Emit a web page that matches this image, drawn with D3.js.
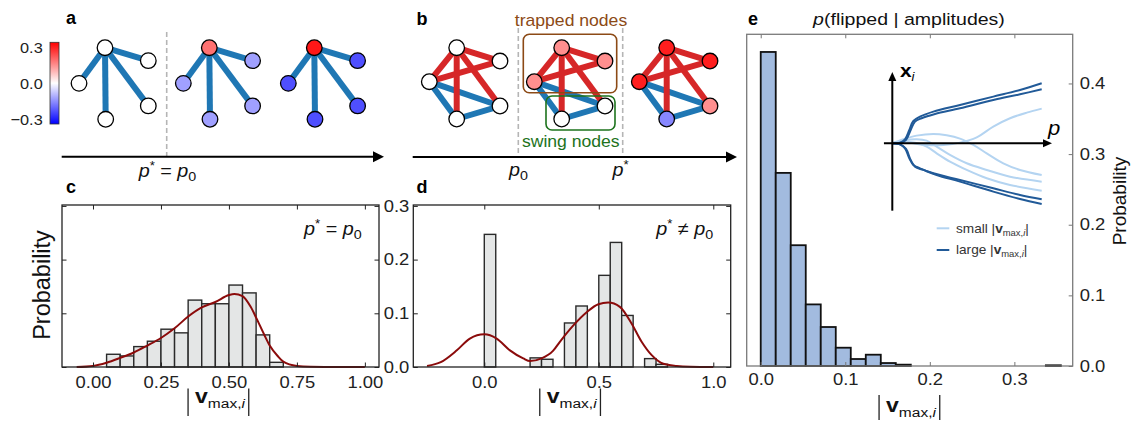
<!DOCTYPE html>
<html><head><meta charset="utf-8">
<script src="https://cdn.jsdelivr.net/npm/d3@7"></script>
<style>
html,body{margin:0;padding:0;background:#fff;}
svg{display:block;}
</style></head><body>
<svg id="fig" width="1132" height="423"></svg>
<script>
// ================= DATA =================
// panel a : amplitudes of hub / leaves in the three stages
const aHubValues  = [0.00, 0.19, 0.31];
const aLeafValues = [0.00, -0.127, -0.235];
const colorbarTicks = [0.3, 0.0, -0.3];
const colorbarLabels = ["0.3", "0.0", "\u22120.3"];
// panel b : node amplitudes per stage (order: top, rightTop, left, rightBottom, bottom)
const bStageValues = [
  [0, 0, 0, 0, 0],
  [0.15, 0.15, 0.15, 0, 0],
  [0.30, 0.30, 0.30, 0.15, -0.16]
];
const bRedEdges  = [[0,2],[0,4],[0,1],[0,3],[2,1]];
const bBlueEdges = [[2,4],[2,3],[4,3]];
// panel c : histogram + kde, p* = p0
const cBinStarts = [0.05,0.10,0.15,0.20,0.25,0.30,0.35,0.40,0.45,0.50,0.55,0.60,0.65];
const cHeights   = [0.0237,0.0206,0.038,0.048,0.0704,0.0636,0.1246,0.1178,0.1178,0.1526,0.138,0.0598,0.0087];
const cKdeX = [-0.06,0.0,0.05,0.10,0.15,0.20,0.25,0.30,0.35,0.40,0.45,0.50,0.52,0.55,0.58,0.60,0.63,0.65,0.68,0.70,0.75,0.80,0.90,1.00];
const cKdeY = [0.0,0.002,0.008,0.017,0.027,0.040,0.054,0.072,0.094,0.111,0.121,0.134,0.136,0.132,0.112,0.092,0.060,0.040,0.020,0.010,0.002,0.0005,0.0,0.0];
// panel d : histogram + kde, p* != p0
const dBinStarts = [0.00,0.20,0.25,0.35,0.40,0.50,0.55,0.60,0.70,0.75];
const dHeights   = [0.247,0.017,0.0144,0.082,0.1136,0.1707,0.232,0.096,0.0156,0.005];
const dKdeX = [-0.25,-0.19,-0.12,-0.063,0.0,0.054,0.112,0.17,0.20,0.25,0.30,0.33,0.39,0.447,0.498,0.541,0.592,0.643,0.687,0.731,0.782,0.84,0.90,1.0];
const dKdeY = [0.002,0.009,0.031,0.053,0.061,0.053,0.031,0.016,0.011,0.016,0.030,0.047,0.078,0.102,0.117,0.120,0.112,0.081,0.047,0.022,0.006,0.002,0.0005,0.0];
// panel e : histogram of |v_max,i| for flipped nodes
const eBinWidth = 0.01775;
const eHeights = [0.4446,0.2734,0.171,0.0872,0.0552,0.0259,0.0099,0.016,0.0042,0.0019,0,0,0,0,0,0,0,0,0,0.001];
const cTicks = [0, 0.25, 0.5, 0.75, 1.0];
const dTicks = [0, 0.5, 1.0];
const cdYTicks = [0, 0.1, 0.2, 0.3];
const eXTicks = [0, 0.1, 0.2, 0.3];
const eYTicks = [0, 0.1, 0.2, 0.3, 0.4];
// inset : bifurcation sketch (p, x_i)
const insetLargeP = [
  [0,0.051,0.085,0.114,0.141,0.185,0.275,0.453,0.676,0.855,1.0],
  [0,0.056,0.092,0.123,0.152,0.196,0.286,0.453,0.676,0.855,1.0],
  [0,0.051,0.085,0.114,0.141,0.185,0.275,0.453,0.676,0.855,1.0],
  [0,0.056,0.092,0.123,0.152,0.208,0.297,0.453,0.676,0.855,1.0]
];
const insetLargeX = [
  [0,0.011,0.067,0.222,0.372,0.444,0.528,0.639,0.778,0.889,1.0],
  [0,0.006,0.056,0.222,0.361,0.417,0.489,0.583,0.722,0.817,0.9],
  [0,-0.017,-0.083,-0.25,-0.361,-0.417,-0.5,-0.611,-0.75,-0.861,-0.933],
  [0,-0.022,-0.094,-0.278,-0.389,-0.444,-0.528,-0.639,-0.806,-0.928,-1.011]
];
const insetSmallP = [
  [0,0.074,0.141,0.23,0.342,0.453,0.565,0.676,0.788,0.9,1.0],
  [0,0.074,0.163,0.275,0.364,0.453,0.542,0.632,0.743,0.855,1.0],
  [0,0.074,0.163,0.23,0.297,0.386,0.498,0.632,0.788,1.0],
  [0,0.074,0.152,0.23,0.297,0.386,0.498,0.632,0.788,1.0]
];
const insetSmallX = [
  [0,0.028,0.0,-0.028,-0.028,0.011,0.1,0.278,0.417,0.511,0.578],
  [0,0.067,0.128,0.156,0.133,0.078,-0.028,-0.167,-0.333,-0.444,-0.528],
  [0,0.044,0.067,0.044,-0.056,-0.194,-0.333,-0.444,-0.556,-0.639],
  [0,0.022,0.011,-0.056,-0.167,-0.306,-0.444,-0.583,-0.694,-0.789]
];

// ================= STYLE / HELPERS =================
const FONT = '"Liberation Sans", Arial, Helvetica, sans-serif';
const SX = 1.15;
const svg = d3.select("#fig").style("font-family", FONT);
function stretch(sel, s){
  sel.each(function(){
    const t = d3.select(this);
    const x = +(t.attr("x") || 0);
    t.attr("transform", `translate(${x*(1-s)},0) scale(${s},1)`);
  });
}
function mtext(parent, x, y, parts, o = {}){
  const t = parent.append("text").attr("x", x).attr("y", y)
    .attr("text-anchor", o.anchor || "start").style("font-family", FONT)
    .attr("font-size", o.size || 16).attr("fill", o.fill || "#111");
  if (o.weight) t.attr("font-weight", o.weight);
  parts.forEach(p => {
    const ts = t.append("tspan").text(p.t);
    if (p.i) ts.attr("font-style", "italic");
    if (p.b) ts.attr("font-weight", "bold");
    if (p.s) ts.attr("font-size", p.s);
    if (p.dy) ts.attr("dy", p.dy);
  });
  if (o.sx) stretch(t, o.sx);
  return t;
}
function vLabel(parent, cx, base, barTop, barBot, vSize, subSize, sx){
  const t = mtext(parent, cx, base, [{t:"v", b:1, s:vSize}, {t:"max,", s:subSize, dy:5}, {t:"i", i:1, s:subSize}], {anchor:"middle", sx});
  const bb = t.node().getBBox();
  const left = cx + (bb.x - cx) * sx, right = cx + (bb.x + bb.width - cx) * sx;
  [left - 7, right + 3].forEach(xx => parent.append("line")
    .attr("x1", xx).attr("x2", xx).attr("y1", barTop).attr("y2", barBot)
    .attr("stroke", "#222").attr("stroke-width", 1.3));
}
function styleAxis(g, color){
  g.select(".domain").remove();
  g.selectAll(".tick line").attr("stroke", color).attr("stroke-width", 1);
  g.selectAll(".tick text").attr("font-size", 16).attr("fill", "#222").style("font-family", FONT);
  stretch(g.selectAll(".tick text"), SX);
}
function arrow(parent, x1, y, x2){
  parent.append("line").attr("x1", x1).attr("x2", x2 - 8).attr("y1", y).attr("y2", y)
    .attr("stroke", "#000").attr("stroke-width", 2);
  parent.append("path").attr("d", `M${x2},${y} L${x2-11},${y-5.5} L${x2-11},${y+5.5} Z`).attr("fill", "#000");
}
const bwr = d3.scaleLinear().domain([-0.34, 0, 0.34]).range(["#0000ff", "#ffffff", "#ff0000"]);
const EDGE_BLUE = "#1f77b4", EDGE_RED = "#d62728";

// ================= PANEL A =================
const gA = svg.append("g");
mtext(gA, 66, 24, [{t:"a"}], {size:18, weight:"bold", fill:"#000"});
// colorbar
const cbY = d3.scaleLinear().domain([-0.34, 0.34]).range([124, 42.3]);
const defs = svg.append("defs");
const grad = defs.append("linearGradient").attr("id", "bwrgrad").attr("x1", 0).attr("x2", 0).attr("y1", 1).attr("y2", 0);
d3.range(0, 1.0001, 0.1).forEach(f => grad.append("stop").attr("offset", f).attr("stop-color", bwr(-0.34 + 0.68*f)));
gA.append("rect").attr("x", 50).attr("y", cbY(0.34)).attr("width", 9).attr("height", cbY(-0.34) - cbY(0.34))
  .attr("fill", "url(#bwrgrad)").attr("stroke", "#333").attr("stroke-width", 0.8);
colorbarTicks.forEach((v, i) => {
  mtext(gA, 42.7, cbY(v) + 5.6, [{t: colorbarLabels[i]}], {anchor:"end", size:15.5, fill:"#222", sx:1.05});
});
// layout of star graph (normalized)
const starLayout = [[0,0],[1,0.181],[-0.6,0.498],[1,0.813],[0.016,1]];
const starEdges = [[0,1],[0,2],[0,3],[0,4]];
const aHubX = [105, 209.3, 314.3];
aHubX.forEach((hx, s) => {
  const xs = d3.scaleLinear().domain([-1, 1]).range([hx - 43.3, hx + 43.3]);
  const ys = d3.scaleLinear().domain([0, 1]).range([47.7, 119.3]);
  const vals = [aHubValues[s], aLeafValues[s], aLeafValues[s], aLeafValues[s], aLeafValues[s]];
  gA.selectAll(null).data(starEdges).join("line")
    .attr("x1", d => xs(starLayout[d[0]][0])).attr("y1", d => ys(starLayout[d[0]][1]))
    .attr("x2", d => xs(starLayout[d[1]][0])).attr("y2", d => ys(starLayout[d[1]][1]))
    .attr("stroke", EDGE_BLUE).attr("stroke-width", 6);
  gA.selectAll(null).data(starLayout).join("circle")
    .attr("cx", d => xs(d[0])).attr("cy", d => ys(d[1])).attr("r", 7.8)
    .attr("fill", (d, i) => bwr(vals[i])).attr("stroke", "#000").attr("stroke-width", 1.3);
});
gA.append("line").attr("x1", 166.7).attr("x2", 166.7).attr("y1", 32).attr("y2", 157)
  .attr("stroke", "#b5b5b5").attr("stroke-width", 1.6).attr("stroke-dasharray", "5,3");
arrow(gA, 61.7, 156.7, 384);
mtext(gA, 167.5, 177, [{t:"p", i:1}, {t:"*", s:12, dy:-7}, {t:" = ", dy:7}, {t:"p", i:1}, {t:"0", s:13, dy:4}], {anchor:"middle", size:18, sx:1.1});

// ================= PANEL B =================
const gB = svg.append("g");
mtext(gB, 416.5, 25, [{t:"b"}], {size:18, weight:"bold", fill:"#000"});
const kLayout = [[0,0],[1,0.187],[-0.633,0.477],[1,0.818],[0,1]];
const bTopX = [456.7, 561.7, 666.7];
bTopX.forEach((hx, s) => {
  const xs = d3.scaleLinear().domain([-1, 1]).range([hx - 43.3, hx + 43.3]);
  const ys = d3.scaleLinear().domain([0, 1]).range([47.7, 119]);
  [[bBlueEdges, EDGE_BLUE], [bRedEdges, EDGE_RED]].forEach(([edges, col]) => {
    gB.selectAll(null).data(edges).join("line")
      .attr("x1", d => xs(kLayout[d[0]][0])).attr("y1", d => ys(kLayout[d[0]][1]))
      .attr("x2", d => xs(kLayout[d[1]][0])).attr("y2", d => ys(kLayout[d[1]][1]))
      .attr("stroke", col).attr("stroke-width", 6);
  });
  gB.selectAll(null).data(kLayout).join("circle")
    .attr("cx", d => xs(d[0])).attr("cy", d => ys(d[1])).attr("r", 7.8)
    .attr("fill", (d, i) => bwr(bStageValues[s][i])).attr("stroke", "#000").attr("stroke-width", 1.3);
});
[518.3, 622.7].forEach(xx => gB.append("line").attr("x1", xx).attr("x2", xx).attr("y1", 28).attr("y2", 157)
  .attr("stroke", "#b5b5b5").attr("stroke-width", 1.6).attr("stroke-dasharray", "5,3"));
const BROWN = "#8c4a16", GREEN = "#1d731d";
gB.append("rect").attr("x", 523.3).attr("y", 34.3).attr("width", 93.4).attr("height", 58.4).attr("rx", 6)
  .attr("fill", "none").attr("stroke", BROWN).attr("stroke-width", 1.6);
gB.append("rect").attr("x", 546).attr("y", 96).attr("width", 69).attr("height", 34).attr("rx", 6)
  .attr("fill", "none").attr("stroke", GREEN).attr("stroke-width", 1.6);
mtext(gB, 571, 26, [{t:"trapped nodes"}], {anchor:"middle", size:16, fill:BROWN, sx:1.1});
mtext(gB, 570.8, 146.7, [{t:"swing nodes"}], {anchor:"middle", size:16, fill:GREEN, sx:1.1});
arrow(gB, 412.7, 157, 737);
mtext(gB, 518.5, 176.5, [{t:"p", i:1}, {t:"0", s:13, dy:4}], {anchor:"middle", size:18, sx:1.1});
mtext(gB, 620.5, 176.5, [{t:"p", i:1}, {t:"*", s:12, dy:-7}], {anchor:"middle", size:18, sx:1.1});

// ================= PANEL C =================
const gC = svg.append("g");
mtext(gC, 66, 193, [{t:"c"}], {size:18, weight:"bold", fill:"#000"});
const cx = d3.scaleLinear().domain([-0.114, 1.052]).range([62, 379]);
const cy = d3.scaleLinear().domain([0, 0.3017]).range([367, 205]);
gC.selectAll(null).data(cBinStarts).join("rect")
  .attr("x", d => cx(d)).attr("width", d => cx(d + 0.05) - cx(d))
  .attr("y", (d, i) => cy(cHeights[i])).attr("height", (d, i) => cy(0) - cy(cHeights[i]))
  .attr("fill", "#e4e6e6").attr("stroke", "#2a2a2a").attr("stroke-width", 1.4);
gC.append("path").datum(cKdeX.map((v, i) => [v, cKdeY[i]]))
  .attr("d", d3.line().x(d => cx(d[0])).y(d => cy(d[1])).curve(d3.curveMonotoneX))
  .attr("fill", "none").attr("stroke", "#8b0b0b").attr("stroke-width", 2);
styleAxis(gC.append("g").attr("transform", "translate(0,367)")
  .call(d3.axisBottom(cx).tickValues(cTicks).tickFormat(d3.format(".2f")).tickSize(-4.5).tickPadding(10)), "#222");
styleAxis(gC.append("g").attr("transform", "translate(0,205)")
  .call(d3.axisTop(cx).tickValues(cTicks).tickFormat("").tickSize(-4.5)), "#222");
styleAxis(gC.append("g").attr("transform", "translate(62,0)")
  .call(d3.axisLeft(cy).tickValues(cdYTicks).tickFormat("").tickSize(-4.5)), "#222");
styleAxis(gC.append("g").attr("transform", "translate(379,0)")
  .call(d3.axisRight(cy).tickValues(cdYTicks).tickFormat("").tickSize(-4.5)), "#222");
gC.append("rect").attr("x", 62).attr("y", 205).attr("width", 317).attr("height", 162)
  .attr("fill", "none").attr("stroke", "#222").attr("stroke-width", 1.3);
mtext(gC, 361.7, 235, [{t:"p", i:1}, {t:"*", s:12, dy:-7}, {t:" = ", dy:7}, {t:"p", i:1}, {t:"0", s:13, dy:4}], {anchor:"end", size:18, sx:1.1});
gC.append("text").attr("transform", "translate(50.3,285) rotate(-90)").attr("text-anchor", "middle")
  .attr("font-size", 23.5).attr("fill", "#111").style("font-family", FONT).text("Probability");
vLabel(gC, 220, 403.5, 388.5, 416, 20, 13.5, SX);

// ================= PANEL D =================
const gD = svg.append("g");
mtext(gD, 416.5, 193, [{t:"d"}], {size:18, weight:"bold", fill:"#000"});
const dx = d3.scaleLinear().domain([-0.31, 1.076]).range([413.3, 730.7]);
const dy = d3.scaleLinear().domain([0, 0.3017]).range([367, 205]);
gD.selectAll(null).data(dBinStarts).join("rect")
  .attr("x", d => dx(d)).attr("width", d => dx(d + 0.05) - dx(d))
  .attr("y", (d, i) => dy(dHeights[i])).attr("height", (d, i) => dy(0) - dy(dHeights[i]))
  .attr("fill", "#e4e6e6").attr("stroke", "#2a2a2a").attr("stroke-width", 1.4);
gD.append("path").datum(dKdeX.map((v, i) => [v, dKdeY[i]]))
  .attr("d", d3.line().x(d => dx(d[0])).y(d => dy(d[1])).curve(d3.curveMonotoneX))
  .attr("fill", "none").attr("stroke", "#8b0b0b").attr("stroke-width", 2);
styleAxis(gD.append("g").attr("transform", "translate(0,367)")
  .call(d3.axisBottom(dx).tickValues(dTicks).tickFormat(d3.format(".1f")).tickSize(-4.5).tickPadding(10)), "#222");
styleAxis(gD.append("g").attr("transform", "translate(0,205)")
  .call(d3.axisTop(dx).tickValues(dTicks).tickFormat("").tickSize(-4.5)), "#222");
styleAxis(gD.append("g").attr("transform", "translate(413.3,0)")
  .call(d3.axisLeft(dy).tickValues(cdYTicks).tickFormat(d3.format(".1f")).tickSize(-4.5).tickPadding(4)), "#222");
styleAxis(gD.append("g").attr("transform", "translate(730.7,0)")
  .call(d3.axisRight(dy).tickValues(cdYTicks).tickFormat("").tickSize(-4.5)), "#222");
gD.append("rect").attr("x", 413.3).attr("y", 205).attr("width", 317.4).attr("height", 162)
  .attr("fill", "none").attr("stroke", "#222").attr("stroke-width", 1.3);
mtext(gD, 713.3, 235, [{t:"p", i:1}, {t:"*", s:12, dy:-7}, {t:" \u2260 ", dy:7}, {t:"p", i:1}, {t:"0", s:13, dy:4}], {anchor:"end", size:18, sx:1.1});
vLabel(gD, 571.7, 403.5, 388.5, 416, 20, 13.5, SX);

// ================= PANEL E =================
const gE = svg.append("g");
mtext(gE, 748, 25, [{t:"e"}], {size:18, weight:"bold", fill:"#000"});
mtext(gE, 909, 25, [{t:"p", i:1}, {t:"(flipped | amplitudes)"}], {anchor:"middle", size:17, sx:SX});
const ex = d3.scaleLinear().domain([-0.0166, 0.369]).range([746.7, 1072.7]);
const ey = d3.scaleLinear().domain([0, 0.4696]).range([366, 34.3]);
gE.selectAll(null).data(eHeights.map((h, i) => ({s: i * eBinWidth, h})).filter(d => d.h > 0)).join("rect")
  .attr("x", d => ex(d.s)).attr("width", d => ex(d.s + eBinWidth) - ex(d.s))
  .attr("y", d => ey(d.h)).attr("height", d => ey(0) - ey(d.h))
  .attr("fill", "#a2bbdf").attr("stroke", "#111").attr("stroke-width", 1.8);
styleAxis(gE.append("g").attr("transform", "translate(0,366)")
  .call(d3.axisBottom(ex).tickValues(eXTicks).tickFormat(d3.format(".1f")).tickSize(-4).tickPadding(8)), "#777");
styleAxis(gE.append("g").attr("transform", "translate(0,34.3)")
  .call(d3.axisTop(ex).tickValues(eXTicks).tickFormat("").tickSize(-4)), "#777");
styleAxis(gE.append("g").attr("transform", "translate(1072.7,0)")
  .call(d3.axisRight(ey).tickValues(eYTicks).tickFormat(d3.format(".1f")).tickSize(-4).tickPadding(7)), "#777");
gE.append("rect").attr("x", 746.7).attr("y", 34.3).attr("width", 326).attr("height", 331.7)
  .attr("fill", "none").attr("stroke", "#7a7a7a").attr("stroke-width", 1.3);
gE.append("text").attr("transform", "translate(1125.5,201) rotate(-90)").attr("text-anchor", "middle")
  .attr("font-size", 19).attr("fill", "#111").style("font-family", FONT).text("Probability");
vLabel(gE, 911, 411.7, 395, 420, 20, 13.5, SX);

// inset
const ip = d3.scaleLinear().domain([0, 1]).range([892.3, 1041.7]);
const ix = d3.scaleLinear().domain([-1, 1]).range([203.3, 83.3]);
const LIGHT = "#b4d4f1", DARK = "#215a98";
const iline = d3.line().x(d => ip(d[0])).y(d => ix(d[1])).curve(d3.curveCatmullRom.alpha(0.5));
insetSmallP.forEach((ps, k) => gE.append("path").datum(ps.map((p, i) => [p, insetSmallX[k][i]]))
  .attr("d", iline).attr("fill", "none").attr("stroke", LIGHT).attr("stroke-width", 2));
insetLargeP.forEach((ps, k) => gE.append("path").datum(ps.map((p, i) => [p, insetLargeX[k][i]]))
  .attr("d", iline).attr("fill", "none").attr("stroke", DARK).attr("stroke-width", 2));
// inset axes
gE.append("line").attr("x1", ip(0)).attr("x2", ip(0)).attr("y1", ix(-1.123)).attr("y2", ix(1.09))
  .attr("stroke", "#000").attr("stroke-width", 2);
gE.append("path").attr("d", `M${ip(0)},${ix(1.188)} l-4,9 l8,0 Z`).attr("fill", "#000");
gE.append("line").attr("x1", ip(-0.056)).attr("x2", ip(1.01)).attr("y1", ix(0)).attr("y2", ix(0))
  .attr("stroke", "#000").attr("stroke-width", 2);
gE.append("path").attr("d", `M${ip(1.069)},${ix(0)} l-9,-4 l0,8 Z`).attr("fill", "#000");
mtext(gE, 900, 77, [{t:"x", b:1}, {t:"i", i:1, s:12, dy:4}], {size:19, fill:"#000", sx:1.1});
mtext(gE, 1048, 135, [{t:"p", i:1}], {size:21, fill:"#000", sx:1.05});
// inset legend
[[LIGHT, "small", 228.3, 233], [DARK, "large", 250, 254]].forEach(([col, word, ly, ty]) => {
  gE.append("line").attr("x1", 936.7).attr("x2", 949.3).attr("y1", ly).attr("y2", ly)
    .attr("stroke", col).attr("stroke-width", 2);
  mtext(gE, 956, ty, [{t: word + " |"}, {t:"v", b:1}, {t:"max,", s:9, dy:3}, {t:"i", i:1, s:9}, {t:"|", dy:-3}],
    {size:13, fill:"#333", sx:1.05});
});
</script>
</body></html>
